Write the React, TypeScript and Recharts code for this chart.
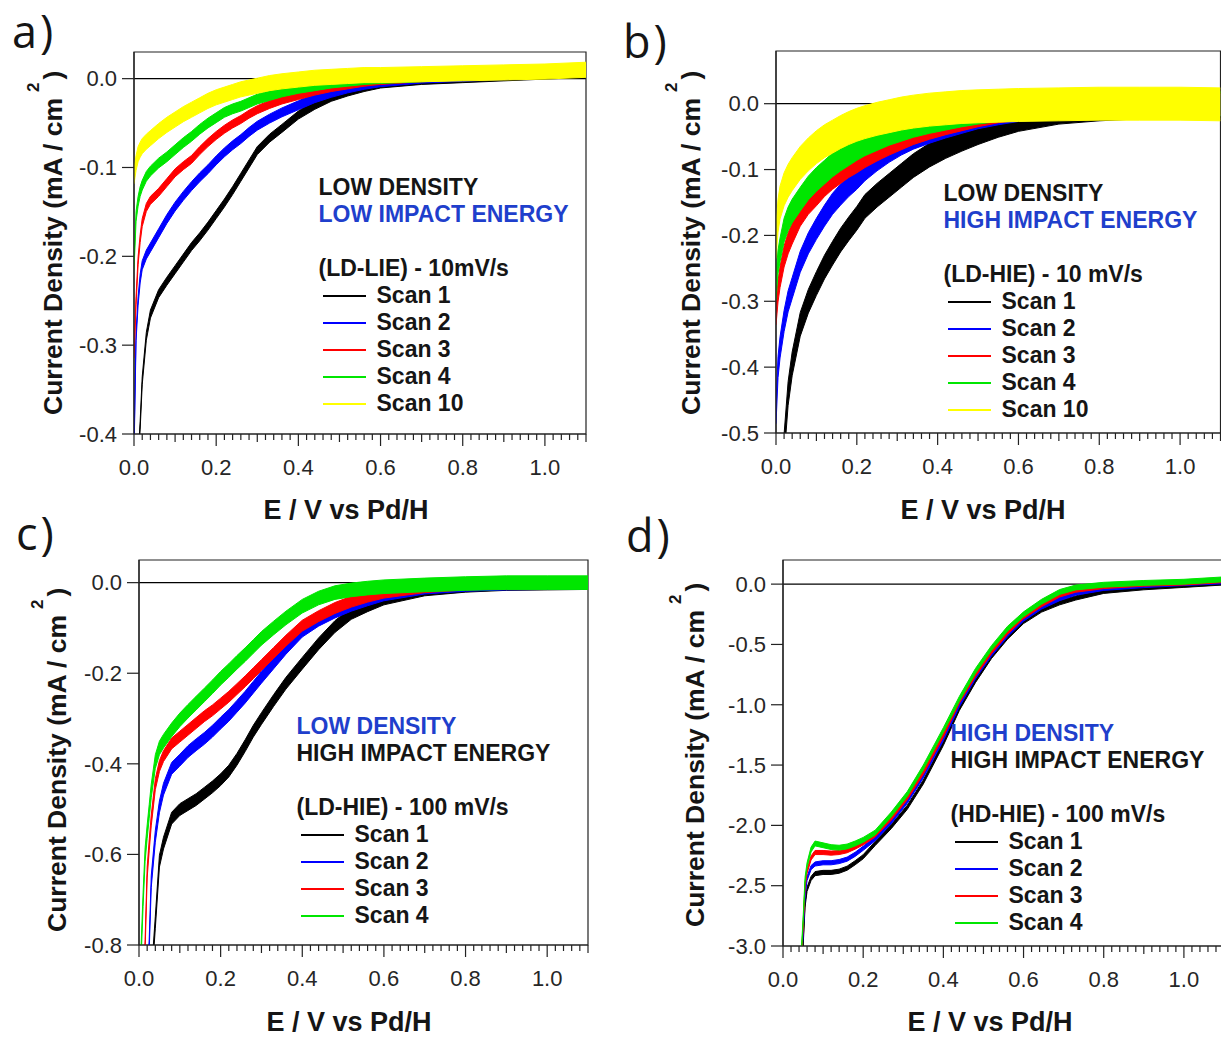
import React from 'react';
import { ComposedChart, Area, XAxis, YAxis, ReferenceArea, Legend, CartesianGrid } from 'recharts';

const FONT = "'Liberation Sans', Arial, Helvetica, sans-serif";
const LETTER_FONT = "'Open Sans', 'Noto Sans', sans-serif";
const AXIS = '#222222';
const TEXT = '#151515';
const TITLE_BLUE = '#1f3fcc';

// ---------- shared series styling ----------
const SCAN_COLORS = ['#000000', '#0000ff', '#ff0000', '#00e600', '#ffff00'];
const NAMES_AB = ['Scan 1', 'Scan 2', 'Scan 3', 'Scan 4', 'Scan 10'];
const NAMES_CD = ['Scan 1', 'Scan 2', 'Scan 3', 'Scan 4'];

// ---------- x axis ticks ----------
const X_MAX = 1.1;
const X_MINOR_STEP = 0.02;
const X_TICK_LABELS = ['0.0', '0.2', '0.4', '0.6', '0.8', '1.0'];
const X_TICKS = Array.from({ length: Math.round(X_MAX / X_MINOR_STEP) + 1 }, (_, i) => +(i * X_MINOR_STEP).toFixed(2));

// ---------- panel a : LD-LIE 10 mV/s ----------
const E_A = [0, 0.005, 0.01, 0.015, 0.02, 0.03, 0.04, 0.06, 0.08, 0.10, 0.12, 0.14, 0.16, 0.18, 0.20, 0.22, 0.24, 0.26, 0.28, 0.30, 0.33, 0.36, 0.40, 0.44, 0.48, 0.52, 0.56, 0.60, 0.70, 0.80, 0.90, 1.00, 1.10];
const A_SCAN1 = [null, null, -0.43, -0.39, -0.34, -0.29, -0.265, -0.242, -0.228, -0.215, -0.202, -0.189, -0.178, -0.166, -0.153, -0.140, -0.126, -0.111, -0.096, -0.081, -0.067, -0.056, -0.041, -0.030, -0.021, -0.015, -0.010, -0.006, -0.002, 0.000, 0.002, 0.004, 0.006];
const A_SCAN2 = [-0.42, -0.29, -0.25, -0.225, -0.21, -0.198, -0.19, -0.174, -0.158, -0.144, -0.132, -0.121, -0.111, -0.102, -0.092, -0.083, -0.075, -0.068, -0.060, -0.053, -0.045, -0.038, -0.030, -0.022, -0.016, -0.011, -0.007, -0.004, 0.000, 0.002, 0.004, 0.006, 0.008];
const A_SCAN3 = [-0.31, -0.25, -0.205, -0.18, -0.162, -0.145, -0.137, -0.128, -0.117, -0.106, -0.098, -0.091, -0.081, -0.072, -0.064, -0.057, -0.051, -0.046, -0.040, -0.035, -0.029, -0.024, -0.019, -0.014, -0.010, -0.007, -0.004, -0.002, 0.001, 0.003, 0.005, 0.007, 0.009];
const A_SCAN4 = [-0.21, -0.155, -0.138, -0.127, -0.12, -0.11, -0.104, -0.095, -0.088, -0.080, -0.072, -0.065, -0.057, -0.050, -0.044, -0.038, -0.034, -0.031, -0.027, -0.023, -0.019, -0.015, -0.011, -0.008, -0.005, -0.003, -0.001, 0.000, 0.002, 0.004, 0.006, 0.008, 0.010];
const A_SCAN10 = [-0.11, -0.095, -0.085, -0.08, -0.076, -0.071, -0.067, -0.059, -0.052, -0.046, -0.040, -0.035, -0.030, -0.025, -0.021, -0.018, -0.015, -0.012, -0.010, -0.008, -0.005, -0.003, -0.001, 0.001, 0.002, 0.003, 0.004, 0.004, 0.005, 0.006, 0.007, 0.008, 0.010];
// half thickness of each noisy trace
const A_NOISE = [0.0045, 0.005, 0.0045, 0.0055, 0.0085];
const A_Y_TICKS = [-0.4, -0.3, -0.2, -0.1, 0];

// ---------- panel b : LD-HIE 10 mV/s ----------
const E_B = [0, 0.005, 0.01, 0.02, 0.03, 0.04, 0.06, 0.08, 0.10, 0.12, 0.14, 0.16, 0.18, 0.20, 0.22, 0.25, 0.28, 0.31, 0.34, 0.38, 0.42, 0.46, 0.50, 0.55, 0.60, 0.70, 0.80, 0.90, 1.00, 1.10];
const B_SCAN1 = [null, null, null, -0.52, -0.44, -0.395, -0.335, -0.30, -0.273, -0.248, -0.227, -0.207, -0.19, -0.174, -0.156, -0.139, -0.124, -0.109, -0.094, -0.078, -0.065, -0.054, -0.044, -0.033, -0.024, -0.013, -0.008, -0.005, -0.004, -0.003];
const B_SCAN2 = [-0.47, -0.40, -0.37, -0.33, -0.30, -0.28, -0.24, -0.212, -0.19, -0.17, -0.152, -0.138, -0.125, -0.114, -0.101, -0.086, -0.073, -0.062, -0.053, -0.044, -0.036, -0.029, -0.022, -0.016, -0.011, -0.006, -0.003, -0.002, -0.002, -0.002];
const B_SCAN3 = [-0.32, -0.285, -0.263, -0.232, -0.212, -0.197, -0.17, -0.152, -0.139, -0.125, -0.114, -0.105, -0.096, -0.089, -0.081, -0.071, -0.062, -0.054, -0.046, -0.038, -0.031, -0.025, -0.019, -0.013, -0.009, -0.005, -0.002, -0.001, -0.001, -0.001];
const B_SCAN4 = [-0.28, -0.24, -0.222, -0.192, -0.175, -0.163, -0.145, -0.128, -0.115, -0.104, -0.093, -0.084, -0.076, -0.068, -0.061, -0.053, -0.045, -0.039, -0.033, -0.027, -0.022, -0.017, -0.013, -0.009, -0.006, -0.003, -0.001, 0.0, 0.0, 0.0];
const B_SCAN10 = [-0.21, -0.17, -0.15, -0.13, -0.117, -0.107, -0.09, -0.077, -0.066, -0.057, -0.05, -0.043, -0.037, -0.032, -0.028, -0.023, -0.019, -0.015, -0.012, -0.009, -0.007, -0.005, -0.004, -0.003, -0.002, -0.001, 0.0, 0.0, 0.0, -0.001];
const B_NOISE = [0.018, 0.016, 0.016, 0.018, 0.025];
const B_Y_TICKS = [-0.5, -0.4, -0.3, -0.2, -0.1, 0];

// ---------- panel c : LD-HIE 100 mV/s ----------
const E_C = [0, 0.005, 0.01, 0.015, 0.02, 0.025, 0.03, 0.04, 0.05, 0.06, 0.08, 0.10, 0.12, 0.14, 0.16, 0.18, 0.20, 0.22, 0.24, 0.26, 0.28, 0.30, 0.33, 0.36, 0.40, 0.44, 0.48, 0.52, 0.56, 0.60, 0.70, 0.80, 0.90, 1.00, 1.10];
const C_SCAN1 = [null, null, null, null, null, null, -0.88, -0.75, -0.615, -0.575, -0.52, -0.501, -0.49, -0.479, -0.465, -0.451, -0.435, -0.416, -0.39, -0.36, -0.328, -0.30, -0.26, -0.222, -0.178, -0.135, -0.097, -0.068, -0.051, -0.036, -0.016, -0.008, -0.004, -0.003, -0.002];
const C_SCAN2 = [null, null, null, null, -0.88, -0.80, -0.66, -0.56, -0.495, -0.456, -0.41, -0.392, -0.373, -0.358, -0.344, -0.328, -0.31, -0.293, -0.273, -0.253, -0.231, -0.209, -0.177, -0.145, -0.107, -0.083, -0.065, -0.05, -0.038, -0.027, -0.012, -0.006, -0.003, -0.002, -0.001];
const C_SCAN3 = [null, null, -0.90, -0.80, -0.64, -0.58, -0.525, -0.445, -0.405, -0.383, -0.355, -0.34, -0.325, -0.31, -0.295, -0.282, -0.267, -0.252, -0.235, -0.218, -0.2, -0.182, -0.155, -0.128, -0.095, -0.074, -0.056, -0.042, -0.031, -0.022, -0.01, -0.004, -0.002, -0.001, 0.0];
const C_SCAN4 = [null, -0.82, -0.70, -0.60, -0.55, -0.505, -0.46, -0.395, -0.365, -0.35, -0.325, -0.303, -0.284, -0.266, -0.248, -0.23, -0.211, -0.194, -0.176, -0.159, -0.141, -0.123, -0.1, -0.078, -0.052, -0.034, -0.022, -0.016, -0.012, -0.009, -0.005, -0.002, 0.0, 0.0, 0.0];
const C_NOISE = [0.013, 0.013, 0.012, 0.015];
const C_Y_TICKS = [-0.8, -0.6, -0.4, -0.2, 0];

// ---------- panel d : HD-HIE 100 mV/s ----------
const E_D = [0.04, 0.045, 0.05, 0.055, 0.06, 0.07, 0.08, 0.10, 0.12, 0.14, 0.16, 0.18, 0.20, 0.23, 0.27, 0.31, 0.35, 0.40, 0.44, 0.48, 0.52, 0.56, 0.60, 0.645, 0.69, 0.73, 0.80, 0.90, 1.00, 1.10];
const D_SCAN1 = [null, -3.4, -3.0, -2.66, -2.53, -2.44, -2.40, -2.39, -2.39, -2.38, -2.355, -2.31, -2.26, -2.15, -2.01, -1.85, -1.64, -1.32, -1.03, -0.80, -0.60, -0.44, -0.31, -0.215, -0.155, -0.115, -0.06, -0.03, -0.01, 0.01];
const D_SCAN2 = [-3.5, -3.2, -2.9, -2.57, -2.44, -2.35, -2.32, -2.31, -2.31, -2.30, -2.28, -2.24, -2.19, -2.11, -1.97, -1.80, -1.59, -1.28, -1.00, -0.77, -0.58, -0.42, -0.29, -0.19, -0.12, -0.075, -0.035, -0.012, 0.005, 0.02];
const D_SCAN3 = [-3.45, -3.15, -2.85, -2.5, -2.38, -2.27, -2.225, -2.225, -2.23, -2.225, -2.21, -2.18, -2.145, -2.08, -1.94, -1.77, -1.56, -1.25, -0.97, -0.75, -0.56, -0.40, -0.27, -0.17, -0.09, -0.05, -0.02, 0.0, 0.01, 0.03];
const D_SCAN4 = [-3.4, -3.1, -2.8, -2.45, -2.33, -2.2, -2.15, -2.165, -2.18, -2.185, -2.175, -2.15, -2.12, -2.06, -1.91, -1.74, -1.52, -1.21, -0.95, -0.72, -0.53, -0.37, -0.25, -0.146, -0.065, -0.028, -0.005, 0.01, 0.02, 0.04];
const D_NOISE = [0.017, 0.017, 0.017, 0.02];
const D_Y_TICKS = [-3, -2.5, -2, -1.5, -1, -0.5, 0];

// ---------- build rows for the library ----------
function buildRows(E: number[], series: (number | null)[][], noise: number[]) {
  return E.map((e, i) => {
    const row: Record<string, any> = { E: e };
    series.forEach((s, k) => {
      const v = s[i];
      row['s' + k] = v == null ? [null, null] : [v - noise[k], v + noise[k]];
    });
    return row;
  });
}

function XTick(props: any) {
  const { x, y, payload } = props;
  const v: number = payload.value;
  const k = Math.round(v / X_MINOR_STEP);
  const major = k % 10 === 0;
  const mid = k % 5 === 0;
  const len = major ? 12 : mid ? 8 : 6;
  const label = major ? X_TICK_LABELS[k / 10] : undefined;
  return (
    <g>
      <line x1={x} x2={x} y1={y} y2={y + len} stroke={AXIS} strokeWidth={1.2} />
      {label && (
        <text x={x} y={y + 41} textAnchor="middle" fontSize={22} fill="#262626" fontFamily={FONT}>
          {label}
        </text>
      )}
    </g>
  );
}

type Head = { text: string; color: string };

function PanelLegend({ heads, sub, names, colors }: { heads: Head[]; sub: string; names: string[]; colors: string[] }) {
  return (
    <div style={{ fontFamily: FONT, fontWeight: 700, fontSize: 23, lineHeight: '27px', whiteSpace: 'nowrap', color: TEXT, textAlign: 'left' }}>
      {heads.map((h) => (
        <div key={h.text} style={{ color: h.color, height: 27 }}>{h.text}</div>
      ))}
      <div style={{ height: 27 }} />
      <div style={{ height: 27 }}>{sub}</div>
      {names.map((n, i) => (
        <div key={n} style={{ display: 'flex', alignItems: 'center', height: 27 }}>
          <svg width={58} height={27} style={{ display: 'block', flex: '0 0 auto' }}>
            <line x1={4} x2={47} y1={14} y2={14} stroke={colors[i]} strokeWidth={2} />
          </svg>
          <span>{n}</span>
        </div>
      ))}
    </div>
  );
}

type PanelCfg = {
  left: number; top: number; width: number; height: number;
  margin: { top: number; right: number; bottom: number; left: number };
  yWidth: number; xHeight: number;
  yDomain: [number, number]; yTicks: number[];
  rows: any[]; names: string[];
  legendX: number; legendY: number; heads: Head[]; sub: string;
};

function Panel({ cfg }: { cfg: PanelCfg }) {
  const colors = SCAN_COLORS.slice(0, cfg.names.length);
  return (
    <div style={{ position: 'absolute', left: cfg.left, top: cfg.top, width: cfg.width, height: cfg.height }}>
      <ComposedChart width={cfg.width} height={cfg.height} data={cfg.rows} margin={cfg.margin}>
        <CartesianGrid vertical={false} horizontalValues={[0]} stroke="#000" strokeWidth={1.3} />
        <XAxis
          type="number" dataKey="E" domain={[0, X_MAX]} ticks={X_TICKS} interval={0} allowDataOverflow
          height={cfg.xHeight} tickSize={0} tickMargin={0} tickLine={false} tick={<XTick />}
          axisLine={{ stroke: AXIS, strokeWidth: 1.2 }}
        />
        <YAxis
          type="number" domain={cfg.yDomain} ticks={cfg.yTicks} interval={0} allowDataOverflow width={cfg.yWidth}
          tickSize={12} tickMargin={5} tickFormatter={(v: number) => v.toFixed(1)}
          tick={{ fontSize: 22, fill: '#262626', fontFamily: FONT }}
          tickLine={{ stroke: AXIS, strokeWidth: 1.2 }} axisLine={{ stroke: AXIS, strokeWidth: 1.2 }}
        />
        <ReferenceArea x1={0} x2={X_MAX} y1={cfg.yDomain[0]} y2={cfg.yDomain[1]} fill="none" fillOpacity={0} stroke={AXIS} strokeWidth={1.2} />
        {cfg.names.map((n, k) => (
          <Area
            key={n} type="linear" dataKey={'s' + k} name={n}
            stroke={colors[k]} strokeWidth={1} fill={colors[k]} fillOpacity={1}
            isAnimationActive={false} dot={false} activeDot={false} connectNulls={false}
          />
        ))}
        <Legend
          layout="vertical" align="center" verticalAlign="middle"
          wrapperStyle={{ left: cfg.legendX - cfg.left, top: cfg.legendY - cfg.top, width: 300, height: 'auto' }}
          content={() => <PanelLegend heads={cfg.heads} sub={cfg.sub} names={cfg.names} colors={colors} />}
        />
      </ComposedChart>
    </div>
  );
}

const PANELS: PanelCfg[] = [
  {
    left: 0, top: 0, width: 610, height: 520, margin: { top: 52, right: 24, bottom: 0, left: 0 },
    yWidth: 134, xHeight: 86, yDomain: [-0.4, 0.03], yTicks: A_Y_TICKS,
    rows: buildRows(E_A, [A_SCAN1, A_SCAN2, A_SCAN3, A_SCAN4, A_SCAN10], A_NOISE), names: NAMES_AB,
    legendX: 318.5, legendY: 173.7,
    heads: [{ text: 'LOW DENSITY', color: TEXT }, { text: 'LOW IMPACT ENERGY', color: TITLE_BLUE }], sub: '(LD-LIE) - 10mV/s',
  },
  {
    left: 610, top: 0, width: 612, height: 520, margin: { top: 51, right: 1.5, bottom: 0, left: 0 },
    yWidth: 166, xHeight: 87, yDomain: [-0.5, 0.08], yTicks: B_Y_TICKS,
    rows: buildRows(E_B, [B_SCAN1, B_SCAN2, B_SCAN3, B_SCAN4, B_SCAN10], B_NOISE), names: NAMES_AB,
    legendX: 943.5, legendY: 180.2,
    heads: [{ text: 'LOW DENSITY', color: TEXT }, { text: 'HIGH IMPACT ENERGY', color: TITLE_BLUE }], sub: '(LD-HIE) - 10 mV/s',
  },
  {
    left: 0, top: 520, width: 610, height: 517, margin: { top: 40, right: 22, bottom: 0, left: 0 },
    yWidth: 139, xHeight: 92, yDomain: [-0.8, 0.05], yTicks: C_Y_TICKS,
    rows: buildRows(E_C, [C_SCAN1, C_SCAN2, C_SCAN3, C_SCAN4], C_NOISE), names: NAMES_CD,
    legendX: 296.5, legendY: 713.2,
    heads: [{ text: 'LOW DENSITY', color: TITLE_BLUE }, { text: 'HIGH IMPACT ENERGY', color: TEXT }], sub: '(LD-HIE) - 100 mV/s',
  },
  {
    left: 610, top: 520, width: 614, height: 517, margin: { top: 40, right: 0, bottom: 0, left: 0 },
    yWidth: 173, xHeight: 91, yDomain: [-3.0, 0.2], yTicks: D_Y_TICKS,
    rows: buildRows(E_D, [D_SCAN1, D_SCAN2, D_SCAN3, D_SCAN4], D_NOISE), names: NAMES_CD,
    legendX: 950.5, legendY: 719.7,
    heads: [{ text: 'HIGH DENSITY', color: TITLE_BLUE }, { text: 'HIGH IMPACT ENERGY', color: TEXT }], sub: '(HD-HIE) - 100 mV/s',
  },
];

const PANEL_LETTERS = [
  { text: 'a)', x: 12, y: 48 },
  { text: 'b)', x: 623, y: 58 },
  { text: 'c)', x: 16, y: 550 },
  { text: 'd)', x: 626, y: 552 },
];
const X_TITLES = [
  { x: 346, y: 519 },
  { x: 983, y: 519 },
  { x: 349, y: 1031 },
  { x: 990, y: 1031 },
];
const Y_TITLES = [
  { x: 62, y: 415 },
  { x: 700, y: 415 },
  { x: 66, y: 932 },
  { x: 704, y: 927 },
];
const X_TITLE = 'E / V vs Pd/H';

export default function App() {
  return (
    <div style={{ position: 'absolute', left: 0, top: 0, width: 1221, height: 1037, overflow: 'hidden', background: '#ffffff' }}>
      {PANELS.map((p, i) => (
        <Panel key={i} cfg={p} />
      ))}
      <svg width={1221} height={1037} style={{ position: 'absolute', left: 0, top: 0, pointerEvents: 'none' }}>
        {PANEL_LETTERS.map((l) => (
          <text key={l.text} x={l.x} y={l.y} fontSize={45} fontFamily={LETTER_FONT} fill={TEXT} letterSpacing={3}>
            {l.text}
          </text>
        ))}
        {X_TITLES.map((t, i) => (
          <text key={'xt' + i} x={t.x} y={t.y} textAnchor="middle" fontSize={27} fontWeight={700} fontFamily={FONT} fill={TEXT}>
            {X_TITLE}
          </text>
        ))}
        {Y_TITLES.map((t, i) => (
          <text key={'yt' + i} transform={`translate(${t.x},${t.y}) rotate(-90)`} x={0} y={0} fontSize={26.5} fontWeight={700} fontFamily={FONT} fill={TEXT}>
            Current Density (mA / cm
            <tspan dx={6} dy={-23} fontSize={17}>2</tspan>
            <tspan dx={3} dy={23}>)</tspan>
          </text>
        ))}
      </svg>
    </div>
  );
}
